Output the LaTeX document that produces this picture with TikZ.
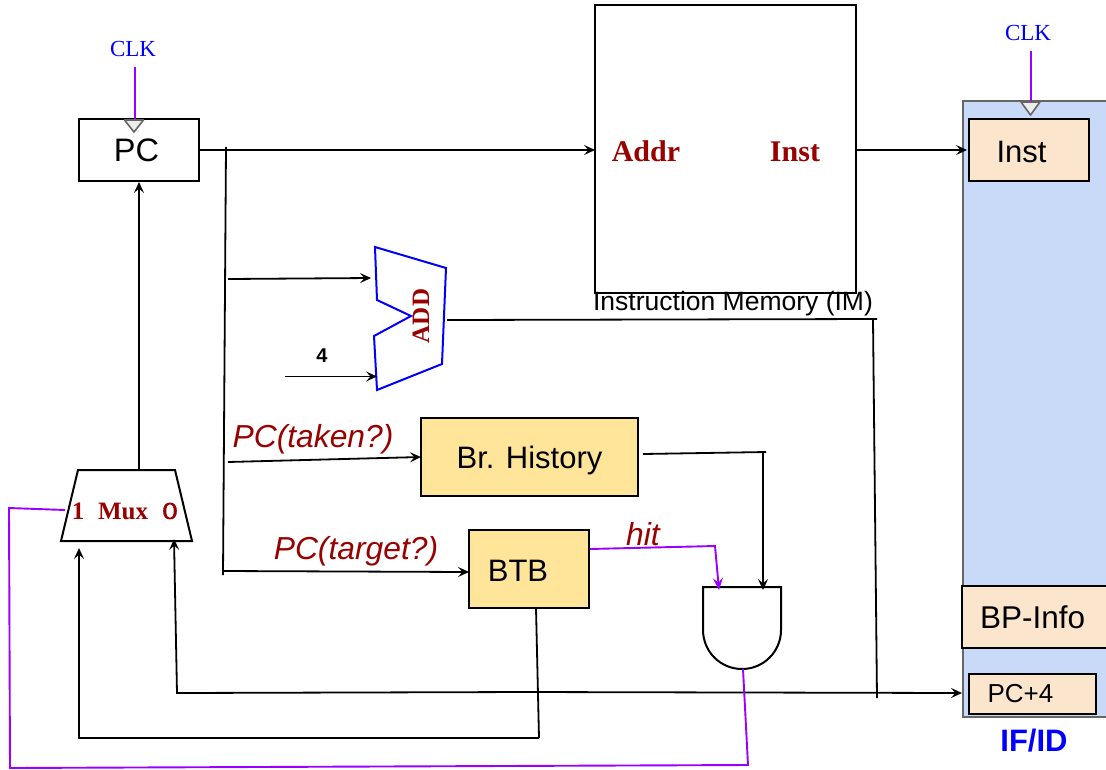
\documentclass[tikz,border=0pt]{standalone}
\usepackage{fontspec}
\setmainfont{Liberation Sans}
\newfontfamily\serifbody{Liberation Serif}
\newfontfamily\oldnum[Numbers=OldStyle,FakeBold=3]{Latin Modern Roman}
\usetikzlibrary{arrows.meta,calc}
\definecolor{darkred}{HTML}{990000}
\definecolor{purp}{HTML}{9900FF}
\definecolor{regblue}{HTML}{C9DAF8}
\definecolor{peach}{HTML}{FCE5CD}
\definecolor{sand}{HTML}{FFE599}
\newcommand{\fs}[1]{\fontsize{#1}{#1}\selectfont}
\newcommand{\nudge}[2]{\raisebox{-#1}[\height][\depth]{#2}}
\tikzset{
  x=1pt,y=-1pt,
  every node/.style={inner sep=0pt,outer sep=0pt},
  wire/.style={draw=black,line width=1.8pt},
  arr/.style={wire,-{Stealth[length=11pt,width=10pt,inset=4.5pt]}},
  pwire/.style={draw=purp,line width=1.9pt},
  parr/.style={pwire,-{Stealth[length=12pt,width=10pt,inset=4.5pt]}},
  blockbox/.style={draw=black,line width=2pt,anchor=north west},
  clktext/.style={text=blue,font=\serifbody\fs{23}},
  clktri/.style={draw=black!60,fill=black!7,line width=1.6pt,line join=round},
  redlabel/.style={text=darkred,font=\serifbody\bfseries\fs{30}},
  wordlabel/.style={text=darkred,font=\itshape\fs{31.8}},
}
\begin{document}
\begin{tikzpicture}
\useasboundingbox (0,0) rectangle (1106,769);

% IF/ID register
\node[draw=black!60,fill=regblue,line width=2pt,anchor=north west,minimum width=150pt,minimum height=616pt] (ifid) at (963,101) {};
\node[blockbox,fill=peach,minimum width=120pt,minimum height=62pt,font=\fs{31}] (inst) at (969,119) {\nudge{2pt}{Inst}\kern15pt\relax};
\node[blockbox,fill=peach,minimum width=150pt,minimum height=62pt,font=\fs{31.5},text width=146pt,align=left] (bpinfo) at (962,586) {\hspace*{16pt}BP-Info};
\node[blockbox,fill=peach,minimum width=127pt,minimum height=40pt,font=\fs{26}] (pcfour) at (969,674) {PC+4\kern24pt\relax};
\node[text=blue,font=\bfseries\fs{31}] (ifidlabel) at (1034,741) {IF/ID};

% PC
\node[blockbox,minimum width=120pt,minimum height=62pt,font=\fs{32.5}] (pc) at (79,119) {PC\kern5pt\relax};

% Instruction memory
\node[blockbox,minimum width=261pt,minimum height=288pt] (im) at (595,5) {};
\node[redlabel] (addr) at (646,151) {Addr};
\node[redlabel] (imout) at (795,152) {Inst};
\node[font=\fs{26.5}] (imlabel) at (733,304) {Instruction Memory (IM)};

% Adder
\coordinate (addA) at (375,247);
\coordinate (addB) at (446,268);
\coordinate (addC) at (442,364);
\coordinate (addD) at (377,390);
\coordinate (addE) at (374,336);
\coordinate (addF) at (411,316);
\coordinate (addG) at (377,300);
\draw[draw=blue,line width=2pt,line join=miter] (addA) -- (addB) -- (addC) -- (addD) -- (addE) -- (addF) -- (addG) -- cycle;
\node[rotate=90,text=darkred,font=\serifbody\bfseries\fs{25}] (addlabel) at (421,316) {ADD};
\node[font=\bfseries\fs{20}] (four) at (322,356) {4};

% Prediction blocks
\node[blockbox,fill=sand,minimum width=217pt,minimum height=78pt,font=\fs{31}] (bh) at (421,418) {\nudge{3pt}{Br. History}};
\node[blockbox,fill=sand,minimum width=120pt,minimum height=78pt,font=\fs{31}] (btb) at (469,530) {\nudge{2pt}{BTB}\kern22pt\relax};
\node[wordlabel] (taken) at (313,439) {PC(taken?)};
\node[wordlabel] (target) at (356,551) {PC(target?)};
\node[wordlabel] (hit) at (643,534) {hit};

% AND gate
\draw[line width=2pt,fill=white] (703,587) -- (781,587) -- (781,630) arc[start angle=0,end angle=180,x radius=39pt,y radius=-39pt] -- cycle;
\coordinate (andout) at (743,669);

% Mux
\coordinate (muxA) at (78,470);
\coordinate (muxB) at (175,470);
\coordinate (muxC) at (192,541);
\coordinate (muxD) at (61,541);
\draw[line width=2pt,line join=miter] (muxA) -- (muxB) -- (muxC) -- (muxD) -- cycle;
\node[text=darkred,font=\serifbody\bfseries\fs{25}] (muxone) at (78,511) {1};
\node[text=darkred,font=\serifbody\bfseries\fs{25}] (muxword) at (123,511) {Mux};
\node[text=darkred,font=\oldnum\fs{33}] (muxzero) at (170,511) {0};

% Clocks
\node[clktext] (clkpc) at (133,49) {CLK};
\node[clktext] (clkif) at (1028,33) {CLK};
\coordinate (clkpcs) at (135,67);
\coordinate (clkpce) at (135,119);
\coordinate (clkifs) at (1031,51);
\coordinate (clkife) at (1031,101);
\draw[pwire] (clkpcs) -- (clkpce);
\draw[pwire] (clkifs) -- (clkife);
\draw[clktri] (124.5,120) -- (143.5,120) -- (134,132) -- cycle;
\draw[clktri] (1021,102) -- (1040,102) -- (1030.5,115) -- cycle;

% Free wire ends
\coordinate (busT) at (226,147);
\coordinate (busB) at (223,575);
\coordinate (addinA) at (228,279);
\coordinate (addinAe) at (371,278);
\coordinate (fours) at (285,376.5);
\coordinate (foure) at (377,376.5);
\coordinate (addouts) at (447,320);
\coordinate (addoute) at (877,319);
\coordinate (vsumT) at (873,320);
\coordinate (vsumB) at (877,698);
\coordinate (bhs) at (228,462);
\coordinate (btbs) at (223,571);
\coordinate (bhout) at (643,454);
\coordinate (bhoute) at (766,452);
\coordinate (bhdT) at (763,452);
\coordinate (andinB) at (763,590);
\coordinate (hitmid) at (715,546);
\coordinate (andinA) at (719,590);
\coordinate (btbouts) at (536,608);
\coordinate (btboute) at (539,738);
\coordinate (btbret) at (79,738);
\coordinate (muxin1) at (79,548);
\coordinate (sumret) at (527,692);
\coordinate (sumcorner) at (177,693);
\coordinate (muxin0) at (174,539);
\coordinate (sumfwd) at (962,693);
\coordinate (selfrom) at (65,510);
\coordinate (selA) at (9,508);
\coordinate (selB) at (10,768);
\coordinate (selC) at (748,765);
\coordinate (imouts) at (856,150);
\coordinate (imoute) at (967,150);
\coordinate (pcins) at (139,470);
\coordinate (pcine) at (139,182);
\coordinate (pcouts) at (199,150);
\coordinate (imin) at (595,150);
\coordinate (bhin) at (421,457);
\coordinate (btbin) at (469,572);
\coordinate (hits) at (590,549);

% Wires
\draw[arr] (pcouts) -- (imin);
\draw[wire] (busT) -- (busB);
\draw[arr] (addinA) -- (addinAe);
\draw[arr] (fours) -- (foure);
\draw[arr] (bhs) -- (bhin);
\draw[arr] (btbs) -- (btbin);
\draw[wire] (bhout) -- (bhoute);
\draw[arr] (bhdT) -- (andinB);
\draw[wire] (addouts) -- (addoute);
\draw[wire] (vsumT) -- (vsumB);
\draw[wire] (btbouts) -- (btboute);
\draw[arr] (btboute) -- (btbret) -- (muxin1);
\draw[arr] (sumret) -- (sumcorner) -- (muxin0);
\draw[arr] (sumret) -- (sumfwd);
\draw[arr] (pcins) -- (pcine);
\draw[arr] (imouts) -- (imoute);
\draw[parr] (hits) -- (hitmid) -- (andinA);
\draw[pwire,line join=miter] (selfrom) -- (selA) -- (selB) -- (selC) -- (andout);
\end{tikzpicture}
\end{document}
